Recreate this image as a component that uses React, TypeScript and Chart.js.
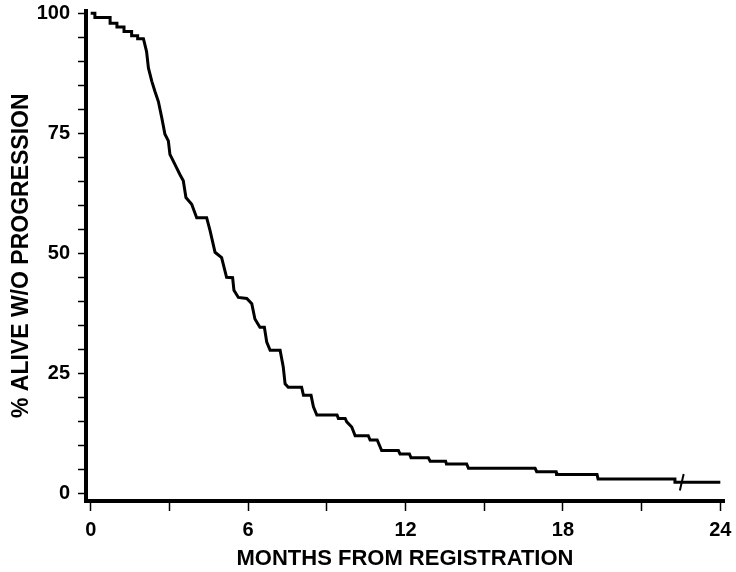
import React, { useEffect, useRef } from "react";
import { Chart, registerables } from "chart.js";

Chart.register(...registerables);

// Kaplan-Meier curve vertices (months, % alive w/o progression)
const months = [
  0, 0.16, 0.16, 0.74, 0.74, 1.0, 1.0, 1.27, 1.27, 1.56, 1.56, 1.79, 1.79, 2.01,
  2.13, 2.2, 2.33, 2.45, 2.58, 2.71, 2.83, 2.96, 3.02, 3.21, 3.4, 3.53, 3.63, 3.85,
  4.04, 4.42, 4.55, 4.74, 4.99, 5.18, 5.41, 5.46, 5.63, 5.95, 6.14, 6.26, 6.45, 6.62,
  6.71, 6.84, 7.22, 7.34, 7.41, 7.53, 8.04, 8.11, 8.4, 8.49, 8.62, 9.39, 9.44, 9.7,
  9.76, 9.95, 10.08, 10.58, 10.65, 10.92, 11.03, 11.09, 11.73, 11.79, 12.15, 12.21,
  12.87, 12.94, 13.53, 13.56, 14.33, 14.4, 16.94, 17.0, 17.74, 17.76, 19.3, 19.34,
  22.27, 22.27, 24.0,
];
const survival = [
  100, 100, 99.1, 99.1, 97.9, 97.9, 97.1, 97.1, 96.2, 96.2, 95.3, 95.3, 94.7, 94.7,
  92.0, 88.6, 85.8, 83.7, 81.6, 78.2, 74.8, 73.4, 70.6, 68.5, 66.4, 65.1, 61.6, 60.2,
  57.4, 57.4, 54.7, 50.2, 49.1, 45.0, 44.9, 42.3, 40.8, 40.6, 39.5, 36.3, 34.6, 34.6,
  31.5, 29.8, 29.8, 26.3, 22.8, 22.1, 22.1, 20.4, 20.4, 18.0, 16.3, 16.3, 15.6, 15.6,
  14.9, 13.8, 12.0, 12.0, 11.1, 11.1, 9.7, 8.9, 8.9, 8.2, 8.2, 7.4,
  7.4, 6.7, 6.7, 6.1, 6.1, 5.2, 5.2, 4.5, 4.5, 3.9, 3.9, 3.0,
  3.0, 2.3, 2.3,
];

// Censored observation marks
const censorMonths = [22.53];
const censorSurvival = [2.3];

// Axis ticks
const xTickValues = [0, 3, 6, 9, 12, 15, 18, 21, 24];
const xLabelValues = [0, 6, 12, 18, 24];
const yTickValues = [0, 5, 10, 15, 20, 25, 30, 35, 40, 45, 50, 55, 60, 65, 70, 75, 80, 85, 90, 95, 100];
const yLabelValues = [0, 25, 50, 75, 100];

const xTitle = "MONTHS FROM REGISTRATION";
const yTitle = "% ALIVE W/O PROGRESSION";

const FAMILY = "'Liberation Sans', Arial, sans-serif";

export default function App() {
  const ref = useRef<HTMLCanvasElement | null>(null);

  useEffect(() => {
    if (!ref.current) return;
    const curve = months.map((m, i) => ({ x: m, y: survival[i] }));
    const censors = censorMonths.map((m, i) => ({ x: m, y: censorSurvival[i] }));

    const chart = new Chart(ref.current, {
      type: "line",
      data: {
        datasets: [
          {
            data: curve,
            borderColor: "#000",
            borderWidth: 3,
            pointRadius: 0,
            tension: 0,
            fill: false,
            borderJoinStyle: "miter",
            borderCapStyle: "butt",
          },
          {
            type: "scatter",
            data: censors,
            showLine: false,
            pointStyle: "line",
            rotation: -77,
            pointRadius: 8.5,
            borderColor: "#000",
            borderWidth: 2,
          } as any,
        ],
      },
      options: {
        responsive: false,
        animation: false,
        devicePixelRatio: 1,
        layout: { padding: { top: 9, right: 12, bottom: 0, left: 0 } },
        plugins: { legend: { display: false }, tooltip: { enabled: false } },
        scales: {
          x: {
            type: "linear",
            min: -0.179,
            max: 24.14,
            afterBuildTicks: (s: any) => {
              s.ticks = xTickValues.map((v) => ({ value: v }));
            },
            afterFit: (s: any) => {
              s.height = 71;
              s.paddingLeft = 0;
              s.paddingRight = 0;
            },
            ticks: {
              autoSkip: false,
              maxRotation: 0,
              padding: 7,
              color: "#000",
              font: { family: FAMILY, size: 20, weight: "bold" },
              callback: (v: any) => (xLabelValues.includes(Number(v)) ? String(v) : ""),
            },
            grid: {
              drawOnChartArea: false,
              drawTicks: true,
              tickLength: 10,
              tickWidth: 1.5,
              tickColor: "#000",
              lineWidth: 1,
            },
            border: { display: true, width: 4, color: "#000" },
            title: {
              display: true,
              text: xTitle,
              color: "#000",
              font: { family: FAMILY, size: 22, weight: "bold" },
              padding: { top: 0, bottom: 0 },
            },
          },
          y: {
            type: "linear",
            min: -1.6,
            max: 100.56,
            afterBuildTicks: (s: any) => {
              s.ticks = yTickValues.map((v) => ({ value: v }));
            },
            afterFit: (s: any) => {
              s.width = 86;
              s.paddingTop = 0;
              s.paddingBottom = 0;
            },
            ticks: {
              autoSkip: false,
              padding: 8,
              color: "#000",
              font: { family: FAMILY, size: 20, weight: "bold" },
              callback: (v: any) => (yLabelValues.includes(Number(v)) ? String(v) : ""),
            },
            grid: {
              drawOnChartArea: false,
              drawTicks: true,
              tickLength: 8,
              tickWidth: 1.5,
              tickColor: "#000",
              lineWidth: 1,
            },
            border: { display: true, width: 4, color: "#000" },
            title: {
              display: true,
              text: yTitle,
              color: "#000",
              font: { family: FAMILY, size: 23, weight: "bold" },
              padding: { top: 8, bottom: 0 },
            },
          },
        },
      } as any,
    });
    return () => chart.destroy();
  }, []);

  return (
    <div style={{ position: "fixed", left: 0, top: 0, width: 736, height: 572, background: "#fff" }}>
      <canvas ref={ref} width={736} height={572} style={{ display: "block", width: 736, height: 572 }} />
    </div>
  );
}
